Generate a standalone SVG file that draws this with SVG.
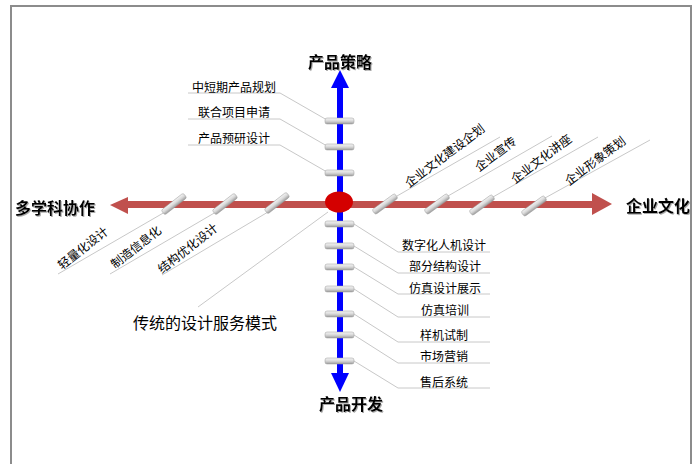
<svg xmlns="http://www.w3.org/2000/svg" width="693" height="464" viewBox="0 0 693 464">
<style>
.t{font-family:"Noto Sans CJK SC","Noto Sans",sans-serif;font-size:12px;fill:#000}
.ax{font-family:"Noto Sans CJK SC","Noto Sans",sans-serif;font-size:16px;font-weight:bold;fill:#000;filter:url(#sh)}
.ld{stroke:#c8c8c8;stroke-width:1;fill:none}
.ul{stroke:#b4b4b4;stroke-width:1;fill:none}
.tick{fill:url(#tg);stroke:#9a9a9a;stroke-width:0.5}
</style>
<defs>
<linearGradient id="tg" x1="0" y1="0" x2="0" y2="1">
<stop offset="0" stop-color="#f4f4f4"/>
<stop offset="0.5" stop-color="#d8d8d8"/>
<stop offset="1" stop-color="#9c9c9c"/>
</linearGradient>
<filter id="sh" x="-10%" y="-10%" width="130%" height="140%">
<feDropShadow dx="1" dy="1" stdDeviation="0.6" flood-color="#888" flood-opacity="0.7"/>
</filter>
</defs>
<rect x="11" y="6" width="680" height="480" fill="#fff" stroke="#8c8c8c" stroke-width="2"/>

<g id="connectors">
<!-- top leaders -->
<polyline class="ld" points="188,93 280,93 327,120"/>
<polyline class="ld" points="188,119 280,119 327,146"/>
<polyline class="ld" points="188,145 280,145 327,172"/>
<!-- bottom leaders -->
<polyline class="ld" points="354,224 398,252 490,252"/>
<polyline class="ld" points="354,246 398,273 490,273"/>
<polyline class="ld" points="354,267 398,294 490,294"/>
<polyline class="ld" points="354,289 398,317 490,317"/>
<polyline class="ld" points="354,314 398,342 490,342"/>
<polyline class="ld" points="354,335 398,363 490,363"/>
<polyline class="ld" points="354,361 398,388 490,388"/>
<!-- right slanted leaders -->
<line class="ld" x1="397" y1="196" x2="500" y2="137"/>
<line class="ld" x1="448" y1="196" x2="552" y2="136"/>
<line class="ld" x1="493" y1="197" x2="598" y2="137"/>
<line class="ld" x1="545" y1="198" x2="650" y2="140"/>
<!-- left slanted leaders -->
<line class="ld" x1="165" y1="212" x2="58" y2="274"/>
<line class="ld" x1="216" y1="212" x2="110" y2="274"/>
<line class="ld" x1="268" y1="212" x2="162" y2="275"/>
<!-- traditional mode leader -->
<line class="ld" x1="328" y1="212" x2="198" y2="307"/>
</g>

<g id="axis-h">
<rect x="126" y="201" width="468" height="7" fill="#c0504d"/>
<polygon points="110,205 128,197 128,214" fill="#c0504d"/>
<polygon points="612,204 592,193 592,215" fill="#c0504d"/>
</g>
<g id="axis-v">
<rect x="337" y="86" width="6" height="289" fill="#0000ff"/>
<polygon points="340,70 331,88 349,88" fill="#0000ff"/>
<polygon points="340,392 331,373 349,373" fill="#0000ff"/>
</g>

<g id="ticks-v">
<rect class="tick" x="325" y="118" width="29" height="6" rx="2"/>
<rect class="tick" x="325" y="144" width="29" height="6" rx="2"/>
<rect class="tick" x="325" y="170" width="29" height="6" rx="2"/>
<rect class="tick" x="325" y="221" width="29" height="6" rx="2"/>
<rect class="tick" x="325" y="243" width="29" height="6" rx="2"/>
<rect class="tick" x="325" y="264" width="29" height="6" rx="2"/>
<rect class="tick" x="325" y="286" width="29" height="6" rx="2"/>
<rect class="tick" x="325" y="311" width="29" height="6" rx="2"/>
<rect class="tick" x="325" y="332" width="29" height="6" rx="2"/>
<rect class="tick" x="325" y="358" width="29" height="6" rx="2"/>
</g>
<g id="ticks-h">
<rect class="tick" x="-14" y="-3" width="28" height="6" rx="2" transform="translate(174,204) rotate(-38)"/>
<rect class="tick" x="-14" y="-3" width="28" height="6" rx="2" transform="translate(225,204) rotate(-38)"/>
<rect class="tick" x="-14" y="-3" width="28" height="6" rx="2" transform="translate(277,203) rotate(-38)"/>
<rect class="tick" x="-14" y="-3" width="28" height="6" rx="2" transform="translate(385,204) rotate(-36)"/>
<rect class="tick" x="-14" y="-3" width="28" height="6" rx="2" transform="translate(437,204) rotate(-36)"/>
<rect class="tick" x="-14" y="-3" width="28" height="6" rx="2" transform="translate(482,205) rotate(-36)"/>
<rect class="tick" x="-14" y="-3" width="28" height="6" rx="2" transform="translate(534,206) rotate(-36)"/>
</g>

<g id="center">
<ellipse cx="339" cy="202" rx="14" ry="10.5" fill="#d40000"/>
</g>

<g id="axis-labels">
<text class="ax" x="340" y="68" text-anchor="middle">产品策略</text>
<text class="ax" x="351" y="410" text-anchor="middle">产品开发</text>
<text class="ax" x="55" y="214" text-anchor="middle">多学科协作</text>
<text class="ax" x="658" y="212" text-anchor="middle">企业文化</text>
</g>

<g id="top-labels">
<text class="t" x="234" y="92" text-anchor="middle">中短期产品规划</text>
<text class="t" x="234" y="117" text-anchor="middle">联合项目申请</text>
<text class="t" x="234" y="143" text-anchor="middle">产品预研设计</text>
</g>

<g id="bottom-labels">
<text class="t" x="444" y="250" text-anchor="middle">数字化人机设计</text>
<text class="t" x="445" y="271" text-anchor="middle">部分结构设计</text>
<text class="t" x="445" y="293" text-anchor="middle">仿真设计展示</text>
<text class="t" x="445" y="315" text-anchor="middle">仿真培训</text>
<text class="t" x="444" y="340" text-anchor="middle">样机试制</text>
<text class="t" x="444" y="361" text-anchor="middle">市场营销</text>
<text class="t" x="444" y="387" text-anchor="middle">售后系统</text>
</g>

<g id="right-labels">
<text class="t" x="409" y="188" transform="rotate(-37 409 188)">企业文化建设企划</text>
<text class="t" x="479" y="172" transform="rotate(-37 479 172)">企业宣传</text>
<text class="t" x="515" y="184" transform="rotate(-37 515 184)">企业文化讲座</text>
<text class="t" x="569" y="186" transform="rotate(-37 569 186)">企业形象策划</text>
</g>

<g id="left-labels">
<text class="t" x="62" y="270" transform="rotate(-38 62 270)">轻量化设计</text>
<text class="t" x="115" y="269" transform="rotate(-38 115 269)">制造信息化</text>
<text class="t" x="162" y="274" transform="rotate(-38 162 274)">结构优化设计</text>
</g>

<g id="mode-label">
<text x="205" y="329" text-anchor="middle" style="font-family:'Noto Sans CJK SC','Noto Sans',sans-serif;font-size:16px;fill:#000">传统的设计服务模式</text>
</g>
</svg>
